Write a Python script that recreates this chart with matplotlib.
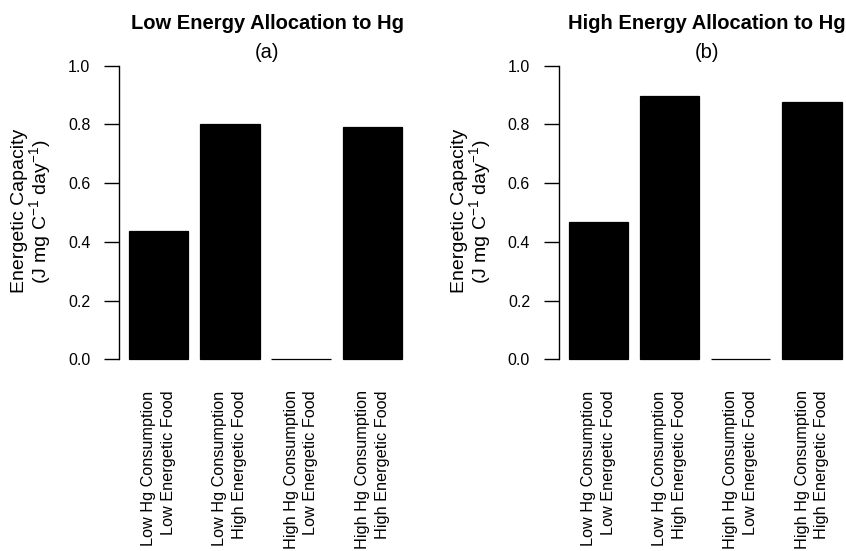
import numpy as np
import matplotlib
matplotlib.use("Agg")
import matplotlib.pyplot as plt

plt.rcParams['font.family'] = ['Liberation Sans', 'DejaVu Sans']
plt.rcParams['mathtext.fontset'] = 'custom'
plt.rcParams['mathtext.rm'] = 'Liberation Sans'

# data
labels = ["Low Hg Consumption\nLow Energetic Food",
          "Low Hg Consumption\nHigh Energetic Food",
          "High Hg Consumption\nLow Energetic Food",
          "High Hg Consumption\nHigh Energetic Food"]
low_alloc = [0.437, 0.801, 0.0, 0.791]
high_alloc = [0.466, 0.897, 0.0, 0.878]
titles = ["Low Energy Allocation to Hg", "High Energy Allocation to Hg"]
letters = ["(a)", "(b)"]
yticks = [0.0, 0.2, 0.4, 0.6, 0.8, 1.0]

W, H = 846, 551
fig = plt.figure(figsize=(W / 100, H / 100), dpi=100)

# R barplot style: width 1, space 0.2
xpos = 0.2 + np.arange(len(labels)) * 1.2 + 0.5


def panel(left_px, vals, title, letter):
    ax = fig.add_axes([left_px / W, (H - 371) / H, 295.5 / W, 317 / H])
    ax.bar(xpos, vals, width=1.0, color="black", edgecolor="black", linewidth=0.9)
    ax.set_xlim(0.037, 5.016)
    ax.set_ylim(-0.04, 1.04)
    for s in ["top", "right", "bottom"]:
        ax.spines[s].set_visible(False)
    ax.spines["left"].set_bounds(0, 1)
    ax.spines["left"].set_linewidth(1.0)
    ax.set_yticks(yticks)
    ax.set_yticklabels(["%.1f" % v for v in yticks])
    ax.tick_params(axis="y", length=10.8, width=1.0, pad=10, labelsize=11.5)
    ax.set_xticks(xpos)
    ax.set_xticklabels(labels, rotation=90, multialignment="right",
                       fontsize=11.7, linespacing=1.4)
    ax.tick_params(axis="x", length=0, pad=14)
    cx = (left_px + 295.5 / 2) / W
    fig.text(cx, 1 - 29.3 / H, title, ha="center", va="baseline",
             fontsize=14.5, fontweight="bold")
    fig.text(cx, 1 - 57.5 / H, letter, ha="center", va="baseline", fontsize=14.5)
    off = left_px - 119.3
    fig.text((off + 20) / W, 1 - 211 / H, "Energetic Capacity", rotation=90,
             ha="center", va="center", fontsize=14)
    fig.text((off + 41) / W, 1 - 211 / H, r"(J mg C$^{-1}$ day$^{-1}$)",
             rotation=90, ha="center", va="center", fontsize=14)
    return ax


panel(119.3, low_alloc, titles[0], letters[0])
panel(559.0, high_alloc, titles[1], letters[1])

fig.savefig("out.png", dpi=100)
